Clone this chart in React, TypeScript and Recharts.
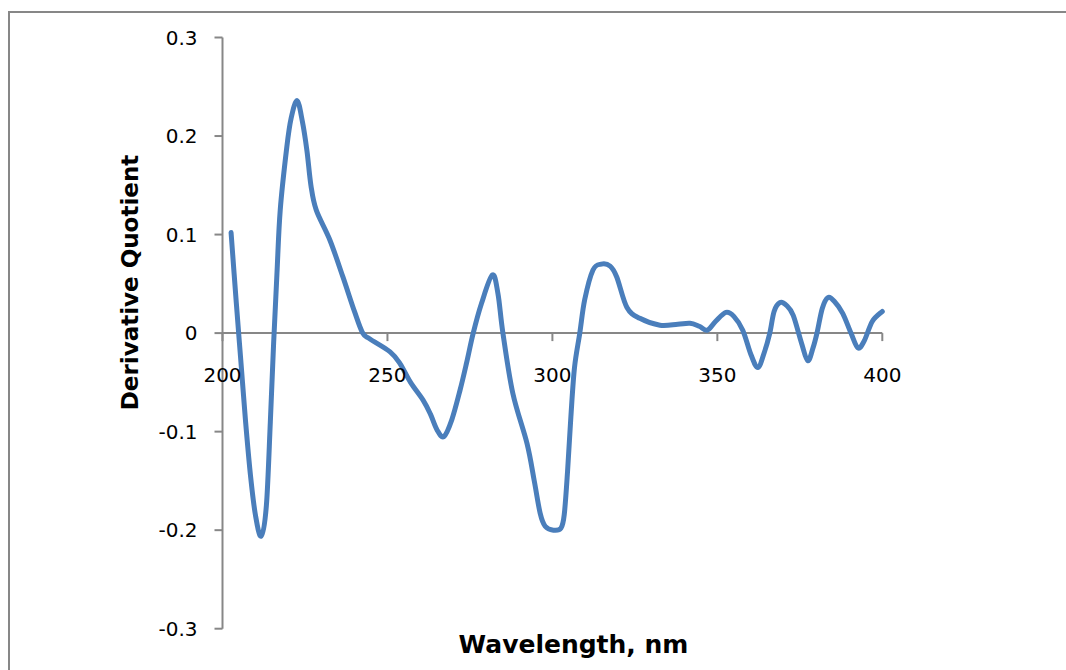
import React from 'react';
import { LineChart, Line, XAxis, YAxis, ReferenceLine } from 'recharts';

const wavelengths = [
  202.6, 204.2, 205.6, 207, 208.5, 210, 211.7, 213.3, 214.5, 215.5, 216.5, 217.5, 219.5, 220.8, 222.6,
  224.2, 225.6, 226.8, 228.4, 232.6, 236.5, 240, 242.5, 244.7, 250.8, 253.8, 257, 260.8, 263, 265, 267.1,
  269.5, 272, 274, 276, 278.5, 281.8, 283.5, 285, 288, 292.3, 294.5, 296.3, 297.8, 300.3, 302.6, 303.6,
  304.6, 305.6, 306.7, 308.3, 309.8, 312.3, 314.8, 317.5, 319.5, 322.6, 326.5, 332.6, 338, 341.7, 344.5,
  347, 349.5, 352.6, 355, 357.7, 360.2, 362.3, 364.2, 365.9, 367.2, 369, 371, 373, 375.5, 377.4, 379,
  380.2, 381.8, 383.5, 385.5, 388, 390.5, 392.6, 394.5, 397, 400,
];
const quotients = [
  0.102, 0.03, -0.03, -0.09, -0.145, -0.185, -0.206, -0.175, -0.09, -0.01, 0.06, 0.125, 0.189, 0.218, 0.236,
  0.215, 0.185, 0.15, 0.125, 0.094, 0.057, 0.022, 0, -0.006, -0.019, -0.031, -0.05, -0.068, -0.082, -0.098, -0.105,
  -0.088, -0.058, -0.03, 0, 0.03, 0.059, 0.04, 0, -0.061, -0.112, -0.15, -0.183, -0.196, -0.2, -0.198, -0.184,
  -0.14, -0.085, -0.035, 0, 0.034, 0.064, 0.07, 0.068, 0.057, 0.026, 0.015, 0.008, 0.009, 0.01, 0.007,
  0.003, 0.012, 0.021, 0.017, 0.003, -0.022, -0.035, -0.02, 0, 0.022, 0.031, 0.028, 0.018, -0.01, -0.028, -0.015,
  0, 0.025, 0.036, 0.032, 0.02, 0, -0.015, -0.008, 0.012, 0.022,
];
const xTicks = [200, 250, 300, 350, 400];
const yTicks = [-0.3, -0.2, -0.1, 0, 0.1, 0.2, 0.3];

const data = wavelengths.map((nm, i) => ({ nm, q: quotients[i] }));

const W = 1066;
const H = 680;
const PLOT_TOP = 24.5;
const PLOT_H = 591.2;
const X_AXIS_H = 30;
const zeroY = PLOT_TOP + PLOT_H / 2;

const AXIS = '#878787';
const FONT = '"DejaVu Sans", Verdana, sans-serif';

// Excel-like smoothed line (Catmull-Rom through every point)
const catmullRom = (context: any) => {
  let pts: number[][] = [];
  return {
    areaStart() {},
    areaEnd() {},
    lineStart() {
      pts = [];
    },
    point(x: number, y: number) {
      pts.push([+x, +y]);
    },
    lineEnd() {
      if (!pts.length) return;
      context.moveTo(pts[0][0], pts[0][1]);
      for (let i = 0; i < pts.length - 1; i++) {
        const p0 = pts[i - 1] || pts[i];
        const p1 = pts[i];
        const p2 = pts[i + 1];
        const p3 = pts[i + 2] || p2;
        context.bezierCurveTo(
          p1[0] + (p2[0] - p0[0]) / 6,
          p1[1] + (p2[1] - p0[1]) / 6,
          p2[0] - (p3[0] - p1[0]) / 6,
          p2[1] - (p3[1] - p1[1]) / 6,
          p2[0],
          p2[1],
        );
      }
    },
  };
};

const XTick = (props: any) => {
  const { x, payload } = props;
  return (
    <g>
      <line x1={x} x2={x} y1={zeroY} y2={zeroY + 8} stroke={AXIS} strokeWidth={2} />
      <text x={x} y={zeroY + 49} textAnchor="middle" fontSize={20} fontFamily={FONT} fill="#000">
        {payload.value}
      </text>
    </g>
  );
};

export default function App() {
  return (
    <div style={{ position: 'fixed', left: 0, top: 0, width: 1066, height: 670, overflow: 'hidden', background: '#fff' }}>
      <div
        style={{
          position: 'absolute',
          left: 8,
          top: 11,
          width: 1200,
          height: 720,
          border: `2px solid ${AXIS}`,
          boxSizing: 'border-box',
        }}
      >
        <LineChart
          width={W}
          height={H}
          data={data}
          margin={{ top: PLOT_TOP, right: 193.7, bottom: H - PLOT_TOP - PLOT_H - X_AXIS_H, left: 0 }}
        >
          <XAxis
            dataKey="nm"
            type="number"
            domain={[200, 400]}
            ticks={xTicks}
            height={X_AXIS_H}
            axisLine={false}
            tickLine={false}
            tick={<XTick />}
            interval={0}
            label={{
              content: () => (
                <text x={563.5} y={640} textAnchor="middle" fontSize={25} fontWeight="bold" fontFamily={FONT} fill="#000">
                  Wavelength, nm
                </text>
              ),
            }}
          />
          <YAxis
            type="number"
            domain={[-0.3, 0.3]}
            ticks={yTicks}
            width={212.5}
            interval={0}
            tickFormatter={(v: number) => (v === 0 ? '0' : v.toFixed(1))}
            axisLine={{ stroke: AXIS, strokeWidth: 2 }}
            tickLine={{ stroke: AXIS, strokeWidth: 2 }}
            tickSize={8}
            tickMargin={17}
            tick={{ fontSize: 20, fontFamily: FONT, fill: '#000' }}
            label={{
              content: () => (
                <text
                  x={120}
                  y={269.5}
                  transform="rotate(-90 120 269.5)"
                  textAnchor="middle"
                  dominantBaseline="central"
                  fontSize={23}
                  fontWeight="bold"
                  fontFamily={FONT}
                  fill="#000"
                >
                  Derivative Quotient
                </text>
              ),
            }}
          />
          <ReferenceLine y={0} stroke={AXIS} strokeWidth={2} />
          <Line
            type={catmullRom as any}
            dataKey="q"
            stroke="#4a7ebb"
            strokeWidth={5}
            dot={false}
            strokeLinecap="round"
            strokeLinejoin="round"
            isAnimationActive={false}
          />
        </LineChart>
      </div>
    </div>
  );
}
